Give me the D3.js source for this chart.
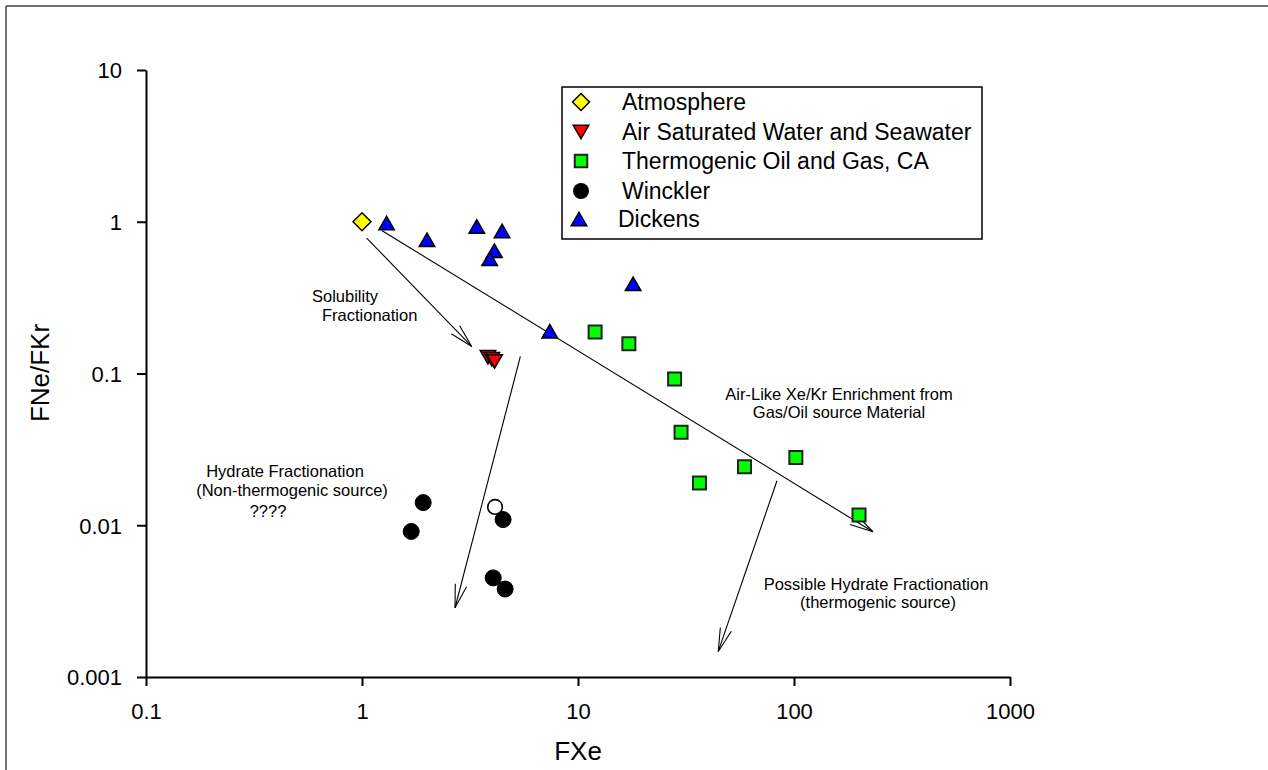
<!DOCTYPE html>
<html><head><meta charset="utf-8">
<script src="https://cdn.jsdelivr.net/npm/d3@7"></script>
<style>
body{margin:0;background:#fff}
svg{display:block}
text{font-family:Arial,"Liberation Sans",sans-serif;fill:#000}
</style>
</head><body>
<svg id="c" width="1268" height="770"></svg>
<script>
// ---------- data ----------
const xTickValues = [0.1, 1, 10, 100, 1000];
const xTickLabels = ["0.1", "1", "10", "100", "1000"];
const yTickValues = [0.001, 0.01, 0.1, 1, 10];
const yTickLabels = ["0.001", "0.01", "0.1", "1", "10"];

const atmosphereX = [1];
const atmosphereY = [1];

const aswX = [3.83, 3.99, 4.11];
const aswY = [0.128, 0.124, 0.12];

const thermoX = [12, 17.2, 28, 30, 36.5, 59, 102, 200];
const thermoY = [0.188, 0.157, 0.092, 0.041, 0.019, 0.0243, 0.028, 0.0117];

const wincklerX = [1.92, 1.69, 4.5, 4.05, 4.6];
const wincklerY = [0.0141, 0.0091, 0.0109, 0.0045, 0.0038];
const wincklerOpenX = [4.13];
const wincklerOpenY = [0.0132];

const dickensX = [1.3, 2.0, 3.4, 4.45, 4.1, 3.9, 7.4, 18];
const dickensY = [0.98, 0.76, 0.93, 0.87, 0.645, 0.57, 0.19, 0.39];

const legendLabels = ["Atmosphere", "Air Saturated Water and Seawater", "Thermogenic Oil and Gas, CA", "Winckler", "Dickens"];

// annotation arrows in data coordinates [x0,y0,x1,y1]
const arrowSolubility = [1.051, 0.781, 3.22, 0.1508];
const arrowEnrichment = [1.234, 0.876, 232, 0.00906];
const arrowHydrate = [5.41, 0.1296, 2.696, 0.00286];
const arrowPossible = [83.4, 0.01964, 44.6, 0.001474];

// ---------- drawing ----------
const svg = d3.select("#c");
const W = 1268, H = 770;

svg.append("line").attr("x1",6).attr("y1",6).attr("x2",W).attr("y2",6).attr("stroke","#444").attr("stroke-width",1.5);
svg.append("line").attr("x1",6).attr("y1",6).attr("x2",6).attr("y2",H).attr("stroke","#444").attr("stroke-width",1.5);

const x = d3.scaleLog().domain([0.1, 1000]).range([146, 1010]);
const y = d3.scaleLog().domain([0.001, 10]).range([677, 70]);

const xAxis = d3.axisBottom(x).tickValues(xTickValues).tickSize(9).tickSizeOuter(0)
  .tickFormat((d,i)=>xTickLabels[i]);
const gx = svg.append("g").attr("transform","translate(0,677)").call(xAxis);
gx.select(".domain").attr("stroke","#000").attr("stroke-width",2);
gx.selectAll(".tick line").attr("stroke","#000").attr("stroke-width",2);
gx.selectAll(".tick text").attr("y",42).attr("dy",0).style("font-size","22px").attr("fill","#000");

const yAxis = d3.axisLeft(y).tickValues(yTickValues).tickSize(9).tickSizeOuter(0)
  .tickFormat((d,i)=>yTickLabels[i]);
const gy = svg.append("g").attr("transform","translate(146,0)").call(yAxis);
gy.select(".domain").attr("stroke","#000").attr("stroke-width",2);
gy.selectAll(".tick line").attr("stroke","#000").attr("stroke-width",2);
gy.selectAll(".tick text").attr("x",-24).attr("dy","0.36em").style("font-size","22px").attr("fill","#000");

svg.append("text").attr("x",578).attr("y",760).attr("text-anchor","middle").style("font-size","26px").text("FXe");
svg.append("text").attr("transform","translate(49,373) rotate(-90)").attr("text-anchor","middle").style("font-size","26px").text("FNe/FKr");

function diamondPath(s){const h=s/2;return `M0,${-h}L${h},0L0,${h}L${-h},0Z`;}
function triUpPath(w,h){return `M0,${-h/2}L${w/2},${h/2}L${-w/2},${h/2}Z`;}
function triDownPath(w,h){return `M0,${h/2}L${w/2},${-h/2}L${-w/2},${-h/2}Z`;}
function squarePath(s){const h=s/2;return `M${-h},${-h}H${h}V${h}H${-h}Z`;}
function zip(a,b){return a.map((v,i)=>[v,b[i]]);}

function drawArrow(a){
  const x0=x(a[0]), y0=y(a[1]), x1=x(a[2]), y1=y(a[3]);
  const g = svg.append("g");
  g.append("line").attr("x1",x0).attr("y1",y0).attr("x2",x1).attr("y2",y1).attr("stroke","#000").attr("stroke-width",1.1);
  const ang = Math.atan2(y0-y1, x0-x1), L=24, sp=14*Math.PI/180;
  [ang-sp, ang+sp].forEach(t=>{
    g.append("line").attr("x1",x1).attr("y1",y1).attr("x2",x1+L*Math.cos(t)).attr("y2",y1+L*Math.sin(t)).attr("stroke","#000").attr("stroke-width",1.1);
  });
}
[arrowSolubility, arrowEnrichment, arrowHydrate, arrowPossible].forEach(drawArrow);

const pts = svg.append("g");
pts.selectAll(".wk").data(zip(wincklerX,wincklerY)).join("circle")
  .attr("cx",d=>x(d[0])).attr("cy",d=>y(d[1])).attr("r",8).attr("fill","#000").attr("stroke","#000").attr("stroke-width",1);
pts.selectAll(".wko").data(zip(wincklerOpenX,wincklerOpenY)).join("circle")
  .attr("cx",d=>x(d[0])).attr("cy",d=>y(d[1])).attr("r",7.3).attr("fill","#fff").attr("stroke","#000").attr("stroke-width",1.6);
pts.selectAll(".th").data(zip(thermoX,thermoY)).join("path")
  .attr("d",squarePath(13)).attr("transform",d=>`translate(${x(d[0])},${y(d[1])})`)
  .attr("fill","#00ff00").attr("stroke","#222").attr("stroke-width",2);
pts.selectAll(".dk").data(zip(dickensX,dickensY)).join("path")
  .attr("d",triUpPath(15.5,13.5)).attr("transform",d=>`translate(${x(d[0])},${y(d[1])})`)
  .attr("fill","#0000ff").attr("stroke","#000").attr("stroke-width",1.5);
pts.selectAll(".asw").data(zip(aswX,aswY)).join("path")
  .attr("d",triDownPath(15.5,13.5)).attr("transform",d=>`translate(${x(d[0])},${y(d[1])})`)
  .attr("fill","#ff0000").attr("stroke","#000").attr("stroke-width",1.5);
pts.selectAll(".atm").data(zip(atmosphereX,atmosphereY)).join("path")
  .attr("d",diamondPath(18)).attr("transform",d=>`translate(${x(d[0])},${y(d[1])})`)
  .attr("fill","#ffff00").attr("stroke","#000").attr("stroke-width",1.5);

const lg = svg.append("g");
lg.append("rect").attr("x",562).attr("y",87).attr("width",420).attr("height",152).attr("fill","#fff").attr("stroke","#000").attr("stroke-width",1.5);
const rowsY = [102, 132, 161, 191, 219];
const mk = [
  {d:diamondPath(17), fill:"#ffff00", sw:1.5, stroke:"#000"},
  {d:triDownPath(15.5,13.5), fill:"#ff0000", sw:1.5, stroke:"#000"},
  {d:squarePath(12.5), fill:"#00ff00", sw:2, stroke:"#222"},
  {d:null, fill:"#000", sw:1, stroke:"#000"},
  {d:triUpPath(15.5,13.5), fill:"#0000ff", sw:1.5, stroke:"#000"}
];
const textX = [622, 622, 622, 622, 618];
legendLabels.forEach((lab,i)=>{
  const cx = i===4 ? 579 : 581;
  if (mk[i].d) lg.append("path").attr("d",mk[i].d).attr("transform",`translate(${cx},${rowsY[i]})`)
    .attr("fill",mk[i].fill).attr("stroke",mk[i].stroke).attr("stroke-width",mk[i].sw);
  else lg.append("circle").attr("cx",cx).attr("cy",rowsY[i]).attr("r",8).attr("fill","#000");
  lg.append("text").attr("x",textX[i]).attr("y",rowsY[i]).attr("dy","0.36em").style("font-size","23px").text(lab);
});

const ann = svg.append("g").style("font-size","16.5px");
ann.append("text").attr("x",312).attr("y",302).text("Solubility");
ann.append("text").attr("x",322).attr("y",321).text("Fractionation");
ann.append("text").attr("x",839).attr("y",400).attr("text-anchor","middle").text("Air-Like Xe/Kr Enrichment from");
ann.append("text").attr("x",839).attr("y",418).attr("text-anchor","middle").text("Gas/Oil source Material");
ann.append("text").attr("x",876).attr("y",590).attr("text-anchor","middle").text("Possible Hydrate Fractionation");
ann.append("text").attr("x",878).attr("y",608).attr("text-anchor","middle").text("(thermogenic source)");
ann.append("text").attr("x",285).attr("y",477).attr("text-anchor","middle").text("Hydrate Fractionation");
ann.append("text").attr("x",292).attr("y",496).attr("text-anchor","middle").text("(Non-thermogenic source)");
ann.append("text").attr("x",268).attr("y",517).attr("text-anchor","middle").text("????");
</script>
</body></html>
